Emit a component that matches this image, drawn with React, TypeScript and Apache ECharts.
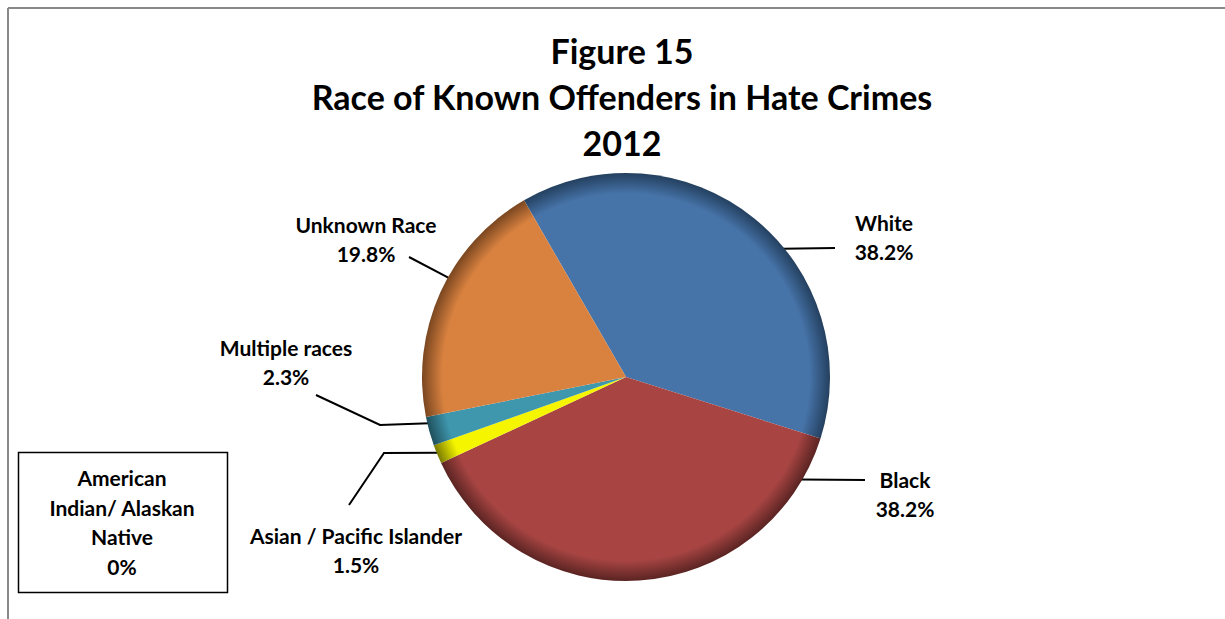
import React, { useEffect, useRef } from "react";
import * as echarts from "echarts";

const categories = ["White", "Black", "Asian / Pacific Islander", "Multiple races", "Unknown Race"];
const percents = [38.2, 38.2, 1.5, 2.3, 19.8];
const sliceColors = ["#4673a8", "#a84543", "#f5f500", "#3f97ae", "#d98240"];
const sliceEdgeColors = ["#24405f", "#5a2422", "#7a7a00", "#1f4f5c", "#7a4620"];
const zeroCategory = ["American", "Indian/ Alaskan", "Native"];
const zeroPercent = 0;
const titleLines = ["Figure 15", "Race of Known Offenders in Hate Crimes", "2012"];

// label layout (positions only)
const labelPos = [
  [884, 237],
  [905, 494],
  [356, 550],
  [286, 362],
  [366, 239],
];
// leader lines: attach angle on the pie rim (degrees), then the bend / end points
const leaderAngle = [39.4, -30.5, 202, 193.2, 150.8];
const leaderRest = [
  [[835, 248]],
  [[865, 480]],
  [[384, 453], [349, 505]],
  [[380, 425], [316, 395]],
  [[409, 257]],
];

const CX = 626;
const CY = 377;
const R = 204;
const FONT = "Lato, 'Open Sans', sans-serif";

export default function App() {
  const ref = useRef<HTMLDivElement>(null);
  useEffect(() => {
    if (!ref.current) return;
    const chart = echarts.init(ref.current, null, { renderer: "svg" });
    const data = categories.map((name, i) => ({
      name,
      value: percents[i],
      itemStyle: {
        color: {
          type: "radial",
          x: CX,
          y: CY,
          r: R,
          global: true,
          colorStops: [
            { offset: 0, color: sliceColors[i] },
            { offset: 0.9, color: sliceColors[i] },
            { offset: 1, color: sliceEdgeColors[i] },
          ],
        },
      },
    }));
    chart.setOption({
      animation: false,
      title: {
        text: titleLines.join("\n"),
        left: 617,
        top: 22,
        textAlign: "center",
        textStyle: {
          fontFamily: FONT,
          fontWeight: "bold",
          fontSize: 34,
          lineHeight: 46,
          color: "#000",
        },
      },
      graphic: [
        { type: "line", shape: { x1: 8, y1: 8, x2: 1225, y2: 8 }, style: { stroke: "#888", lineWidth: 2 } },
        { type: "line", shape: { x1: 8, y1: 8, x2: 8, y2: 619 }, style: { stroke: "#888", lineWidth: 2 } },
        {
          type: "rect",
          shape: { x: 18.5, y: 452.5, width: 209, height: 140 },
          style: { fill: "#fff", stroke: "#000", lineWidth: 1.5 },
        },
        {
          type: "text",
          x: 122,
          y: 522,
          style: {
            text: zeroCategory.join("\n") + "\n" + zeroPercent + "%",
            align: "center",
            verticalAlign: "middle",
            fontFamily: FONT,
            fontWeight: "bold",
            fontSize: 21,
            lineHeight: 29.5,
            fill: "#000",
          },
        },
      ],
      series: [
        {
          type: "pie",
          center: [CX, CY],
          radius: R,
          startAngle: 120,
          clockwise: true,
          data,
          label: {
            show: true,
            position: "outside",
            formatter: "{b}\n{c}%",
            fontFamily: FONT,
            fontWeight: "bold",
            fontSize: 21,
            lineHeight: 29,
            color: "#000",
            align: "center",
          },
          labelLine: {
            show: true,
            lineStyle: { color: "#000", width: 2 },
          },
          labelLayout: (params: any) => {
            const i = params.dataIndex;
            const p = labelPos[i];
            const a = (leaderAngle[i] * Math.PI) / 180;
            const start = [CX + (R - 2) * Math.cos(a), CY - (R - 2) * Math.sin(a)];
            return {
              x: p[0],
              y: p[1],
              align: "center",
              verticalAlign: "middle",
              labelLinePoints: [start, ...leaderRest[i]],
            };
          },
          emphasis: { disabled: true },
        },
      ],
    });
    return () => chart.dispose();
  }, []);
  return (
    <div
      ref={ref}
      style={{ position: "absolute", left: 0, top: 0, width: 1225, height: 619, background: "#fff" }}
    />
  );
}
